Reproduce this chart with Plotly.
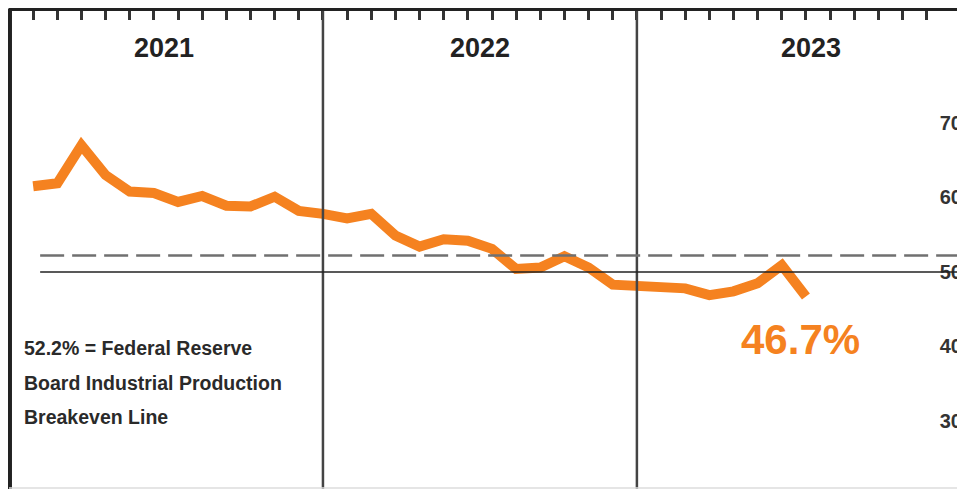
import plotly.graph_objects as go

# --- data ---
point_index = list(range(33))
utilization = [61.5, 61.9, 67.0, 63.0, 60.8, 60.6, 59.4, 60.2, 58.9, 58.8, 60.1, 58.2,
               57.8, 57.2, 57.8, 54.9, 53.4, 54.4, 54.2, 53.1, 50.4, 50.6, 52.1, 50.6,
               48.3, 48.1, 47.9, 47.8, 46.9, 47.4, 48.5, 50.9, 46.7]
year_labels = ["2021", "2022", "2023"]
year_label_pos = [5.42, 18.51, 32.2]
year_boundaries = [12, 25]
tick_positions = list(range(0, 39))
y_ticks = [30, 40, 50, 60, 70]
breakeven = 52.2
reference_level = 50
note_lines = ["52.2% = Federal Reserve", "Board Industrial Production", "Breakeven Line"]
note_y = [39.8, 35.1, 30.5]
last_label = "46.7%"

ORANGE = "#F58220"
FONT = "Liberation Sans, Arial, sans-serif"

fig = go.Figure()
fig.add_trace(go.Scatter(
    x=point_index, y=utilization, mode="lines",
    line=dict(color=ORANGE, width=10), hoverinfo="skip", showlegend=False,
))

shapes = []
# left border
shapes.append(dict(type="line", xref="paper", yref="paper", x0=0.0005, x1=0.0005, y0=0, y1=1.005,
                   line=dict(color="#222", width=5)))
for b in year_boundaries:
    shapes.append(dict(type="line", xref="x", yref="paper", x0=b, x1=b, y0=0, y1=1,
                       line=dict(color="#444", width=2.5)))
shapes.append(dict(type="line", xref="x", yref="y", x0=0.29, x1=38.6,
                   y0=reference_level, y1=reference_level,
                   line=dict(color="#222", width=1.5)))
shapes.append(dict(type="line", xref="x", yref="y", x0=0.29, x1=38.6,
                   y0=breakeven, y1=breakeven,
                   line=dict(color="#707070", width=2.5, dash="24px,8px")))
shapes.append(dict(type="line", xref="paper", yref="paper", x0=0, x1=1, y0=0.002, y1=0.002,
                   line=dict(color="#dddddd", width=1.5)))

annotations = []
for lab, xp in zip(year_labels, year_label_pos):
    annotations.append(dict(x=xp, y=80.1, xref="x", yref="y", text=lab, showarrow=False,
                            font=dict(family=FONT, size=27, color="#222", weight="bold"),
                            xanchor="center", yanchor="middle"))
for line_text, yy in zip(note_lines, note_y):
    annotations.append(dict(x=-0.46, y=yy, xref="x", yref="y", text=line_text, showarrow=False,
                            font=dict(family=FONT, size=19.5, color="#2a2a2a", weight="bold"),
                            xanchor="left", yanchor="middle"))
annotations.append(dict(x=31.76, y=41.0, xref="x", yref="y", text=last_label, showarrow=False,
                        font=dict(family=FONT, size=42, color=ORANGE, weight="bold"),
                        xanchor="center", yanchor="middle"))

fig.update_layout(
    width=957, height=481,
    margin=dict(l=1, r=0, t=3, b=0),
    paper_bgcolor="white", plot_bgcolor="white",
    shapes=shapes, annotations=annotations,
    xaxis=dict(range=[-1, 38.586], side="top", showline=True, linewidth=3, linecolor="#222",
               ticks="inside", ticklen=9, tickwidth=2.5, tickcolor="#333",
               tickvals=tick_positions, showticklabels=False, showgrid=False, zeroline=False),
    yaxis=dict(range=[20.87, 85.03], side="right", ticklabelposition="inside",
               tickvals=y_ticks, ticks="", showgrid=False, zeroline=False, showline=False,
               tickfont=dict(family=FONT, size=20, color="#333", weight="bold")),
)

fig.write_html("out.html")
